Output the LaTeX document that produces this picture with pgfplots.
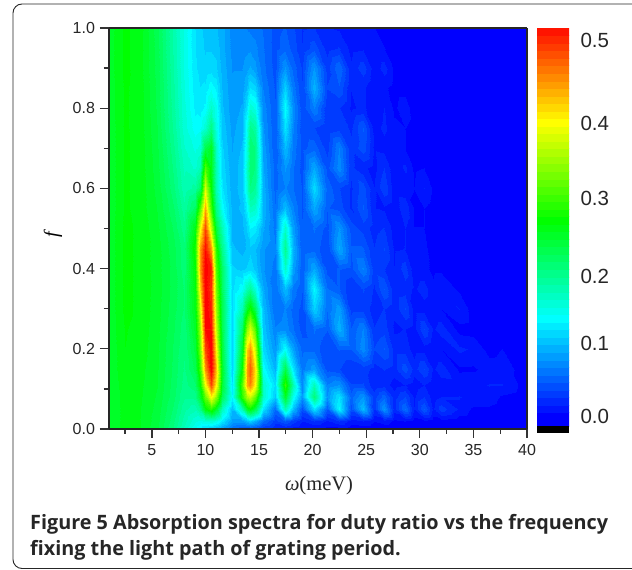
\documentclass[border=0pt]{standalone}
\usepackage{pgfplots}
\pgfplotsset{compat=1.18}
\usepackage{fontspec}
\setmainfont{Liberation Sans}
\newfontfamily\capfont{Open Sans}
\newfontfamily\serif{Liberation Serif}
\def\xval#1{\ifcase#1 1\or2.5\or4\or5.5\or7\or8\or9\or9.5\or10\or10.5\or11\or11.5\or12.5\or13.4\or13.9\or14.2\or14.6\or15.4\or16.5\or17.4\or18.2\or19\or20.1\or21.3\or22.5\or23.6\or24.7\or25.7\or26.7\or27.6\or28.6\or29.5\or30.4\or31.2\or32\or33.7\or35\or36.5\or37.7\or40\fi}
\def\pts{}
\newcommand\R[2]{\foreach \vv [count=\ii from 0] in {#2}{\xdef\pts{\pts (\xval{\ii},#1,\vv)}}}
% absorption x 1000, one line per duty ratio f
\R{0}{235,250,245,228,195,165,138,125,112,105,95,82,60,48,45,45,40,28,20,18,14,10,8,5,5,3,3,2,2,2,2,2,2,2,2,2,2,2,2,2}
\R{0.02}{235,250,245,230,200,172,150,145,150,155,145,122,85,85,100,110,95,60,35,50,35,20,30,18,30,15,20,10,15,8,10,5,8,4,6,3,2,2,2,2}
\R{0.05}{235,250,245,232,205,180,170,190,255,280,240,165,100,170,245,260,225,120,60,170,100,45,120,50,130,45,100,30,80,25,60,20,50,18,35,18,8,8,4,2}
\R{0.08}{236,250,246,234,210,188,190,235,310,390,330,215,130,280,345,360,310,160,105,240,140,80,200,80,120,55,80,35,55,25,40,18,30,14,20,20,18,16,8,2}
\R{0.11}{236,252,247,236,212,192,205,260,380,480,390,235,120,300,430,450,390,160,115,285,170,75,170,70,80,40,40,22,25,15,20,14,20,12,15,16,18,20,20,4}
\R{0.15}{237,254,248,237,214,195,220,290,440,520,420,240,110,265,440,470,400,135,95,225,120,65,85,45,40,30,35,25,30,25,45,25,40,18,25,8,8,15,15,4}
\R{0.2}{237,255,250,238,215,198,230,320,480,520,390,230,108,240,410,440,360,115,80,135,85,55,55,40,50,50,75,40,50,25,25,15,15,10,10,22,18,6,10,3}
\R{0.25}{238,256,251,239,218,200,240,340,510,510,360,225,110,210,330,370,300,105,70,75,60,45,60,50,95,50,70,30,35,18,20,15,40,18,25,6,5,3,3,2}
\R{0.3}{238,258,252,240,220,205,250,370,520,500,340,220,115,170,245,270,220,100,60,70,55,45,110,60,85,35,35,25,30,22,40,15,15,10,10,20,4,3,3,2}
\R{0.35}{238,258,252,241,222,205,255,410,520,490,320,215,115,135,170,185,150,90,60,100,65,50,130,60,50,30,40,28,50,22,25,18,25,12,18,8,3,3,2,2}
\R{0.4}{238,258,252,240,222,200,260,440,520,500,300,210,110,105,110,115,105,80,65,160,85,50,90,45,50,45,70,35,30,20,35,12,12,8,8,3,2,2,2,2}
\R{0.45}{238,258,252,240,220,200,270,440,510,440,280,190,100,95,100,105,100,80,70,190,95,50,55,40,90,50,50,30,40,18,20,10,12,6,6,4,3,3,2,2}
\R{0.5}{238,258,252,238,215,190,250,380,480,360,230,170,95,95,110,128,122,90,65,160,85,50,60,45,80,45,35,25,30,15,20,10,10,6,6,4,3,2,2,2}
\R{0.55}{238,257,250,235,208,180,210,300,430,290,190,135,95,100,130,165,160,95,60,100,70,48,90,50,45,28,50,20,18,12,28,8,10,5,4,3,3,2,2,2}
\R{0.6}{238,257,250,232,200,170,180,210,370,260,170,120,92,105,155,195,185,95,55,70,60,48,115,55,40,28,45,20,38,14,12,10,20,8,4,3,2,2,2,2}
\R{0.65}{238,257,250,230,195,165,155,170,300,250,170,115,90,105,160,205,195,90,55,80,60,45,90,45,75,32,22,16,30,12,22,8,10,5,4,2,2,2,2,2}
\R{0.7}{238,257,250,228,190,158,145,150,225,245,160,110,88,100,150,205,195,85,50,100,65,45,55,35,70,32,45,18,16,10,10,6,6,4,3,2,2,2,2,2}
\R{0.75}{238,257,249,226,185,152,132,135,155,195,145,105,85,95,145,190,180,80,50,120,70,42,40,30,35,28,50,16,22,12,10,6,5,3,2,2,2,2,2,2}
\R{0.8}{239,257,249,224,182,150,125,122,130,160,140,100,82,90,120,155,145,75,50,135,75,42,70,30,30,18,22,12,20,8,15,5,4,2,2,2,2,2,2,2}
\R{0.85}{239,257,249,223,180,148,122,118,120,135,125,98,80,82,100,118,112,68,48,110,65,40,95,40,48,20,22,10,12,6,6,4,2,2,2,2,2,2,2,2}
\R{0.9}{240,258,248,222,178,146,120,113,110,112,110,95,78,78,85,90,82,62,45,80,55,38,80,35,58,22,35,14,24,8,6,4,2,2,2,2,2,2,2,2}
\R{0.95}{240,258,248,221,176,146,118,110,107,107,105,92,75,73,75,76,72,60,45,55,45,30,45,25,30,16,18,10,10,6,4,2,2,2,2,2,2,2,2,2}
\R{1}{240,258,248,220,175,145,118,110,104,102,100,92,74,70,68,66,64,58,45,50,42,28,30,20,18,14,12,10,8,5,3,2,2,2,2,2,2,2,2,2}
\def\cbar{}
\foreach \vv in {-8,10,20,30,40,50,60,70,80,90,100,110,120,130,140,150,160,170,180,190,200,210,220,230,240,250,260,270,280,290,300,310,320,330,340,350,360,370,380,390,400,410,420,430,440,450,460,470,480,490,500,510,520}{\xdef\cbar{\cbar (0,\vv,\vv) (1,\vv,\vv)}}
\pgfplotsset{colormap={rb}{rgb255(0)=(0,0,255) rgb255(1)=(0,255,255) rgb255(2)=(0,255,0) rgb255(3)=(255,255,0) rgb255(4)=(255,0,0)},
  colormap={rbs}{samples of colormap=(53 of rb)},colormap name=rb}
\begin{document}
\begin{tikzpicture}
\clip (0,0) rectangle (632pt,570pt);
\draw[line width=0.9pt,rounded corners=9pt,draw=black!85] (640pt,566pt) -- (13pt,566pt) -- (13pt,1.5pt) -- (640pt,1.5pt);
\begin{axis}[name=map,at={(109pt,141pt)},anchor=south west,scale only axis,width=418pt,height=401pt,
  view={0}{90},xmin=1,xmax=40,ymin=0,ymax=1,
  colormap name=rbs,colormap access=piecewise constant,
  point meta min=0,point meta max=520,
  xtick={5,10,...,40},ytick={0,0.2,0.4,0.6,0.8,1},
  minor xtick={2.5,7.5,...,37.5},minor ytick={0.1,0.3,0.5,0.7,0.9},
  xticklabels={5,10,15,20,25,30,35,40},
  yticklabels={0.0,0.2,0.4,0.6,0.8,1.0},
  xtick pos=bottom,ytick pos=left,tick align=outside,
  major tick length=9pt,minor tick length=5pt,
  tick style={line width=1.3pt,black!80},
  axis line style={line width=1.1pt,black!85},
  axis on top,
  tick label style={font=\fontsize{16}{16}\selectfont,text=black!85},
  xticklabel style={yshift=-3pt},
  yticklabel style={xshift=-1.5pt},
  /pgf/number format/assume math mode=true,
]
\edef\tmp{\noexpand\addplot3[surf,shader=interp,mesh/cols=40,mesh/rows=23] coordinates {\pts};}\tmp
\end{axis}
\begin{axis}[at={(537pt,137pt)},anchor=south west,scale only axis,width=32pt,height=405pt,
  view={0}{90},xmin=0,xmax=1,ymin=-17.2,ymax=520,
  point meta min=0,point meta max=520,
  xtick=\empty,ytick={503,394,294,190,101,5},
  yticklabels={0.5,0.4,0.3,0.2,0.1,0.0},
  ytick pos=right,major tick length=0pt,axis line style={draw=none},
  yticklabel style={font=\fontsize{20.5}{20.5}\selectfont,text=black!85,xshift=8pt},
  /pgf/number format/assume math mode=true,
]
\edef\tmp{\noexpand\addplot3[surf,shader=flat corner,mesh/cols=2,draw=none] coordinates {\cbar};}\tmp
\fill[black] (axis cs:0,-17.2,0) rectangle (axis cs:1,-8,0);
\end{axis}
\node[rotate=90,font=\fontsize{20}{20}\selectfont\serif\itshape] at (53pt,335pt) {f};
\node[font=\fontsize{20.5}{20.5}\selectfont\serif,text=black!85] at (319pt,84pt) {{\itshape\char"03C9}(meV)};
\node[anchor=base west,inner sep=0pt,font=\fontsize{19.8}{19.8}\selectfont\capfont\bfseries,text=black!85] at (30pt,40.5pt) {Figure 5 Absorption spectra for duty ratio vs the frequency};
\node[anchor=base west,inner sep=0pt,font=\fontsize{19.8}{19.8}\selectfont\capfont\bfseries,text=black!85] at (30pt,14.5pt) {fixing the light path of grating period.};
\end{tikzpicture}
\end{document}
